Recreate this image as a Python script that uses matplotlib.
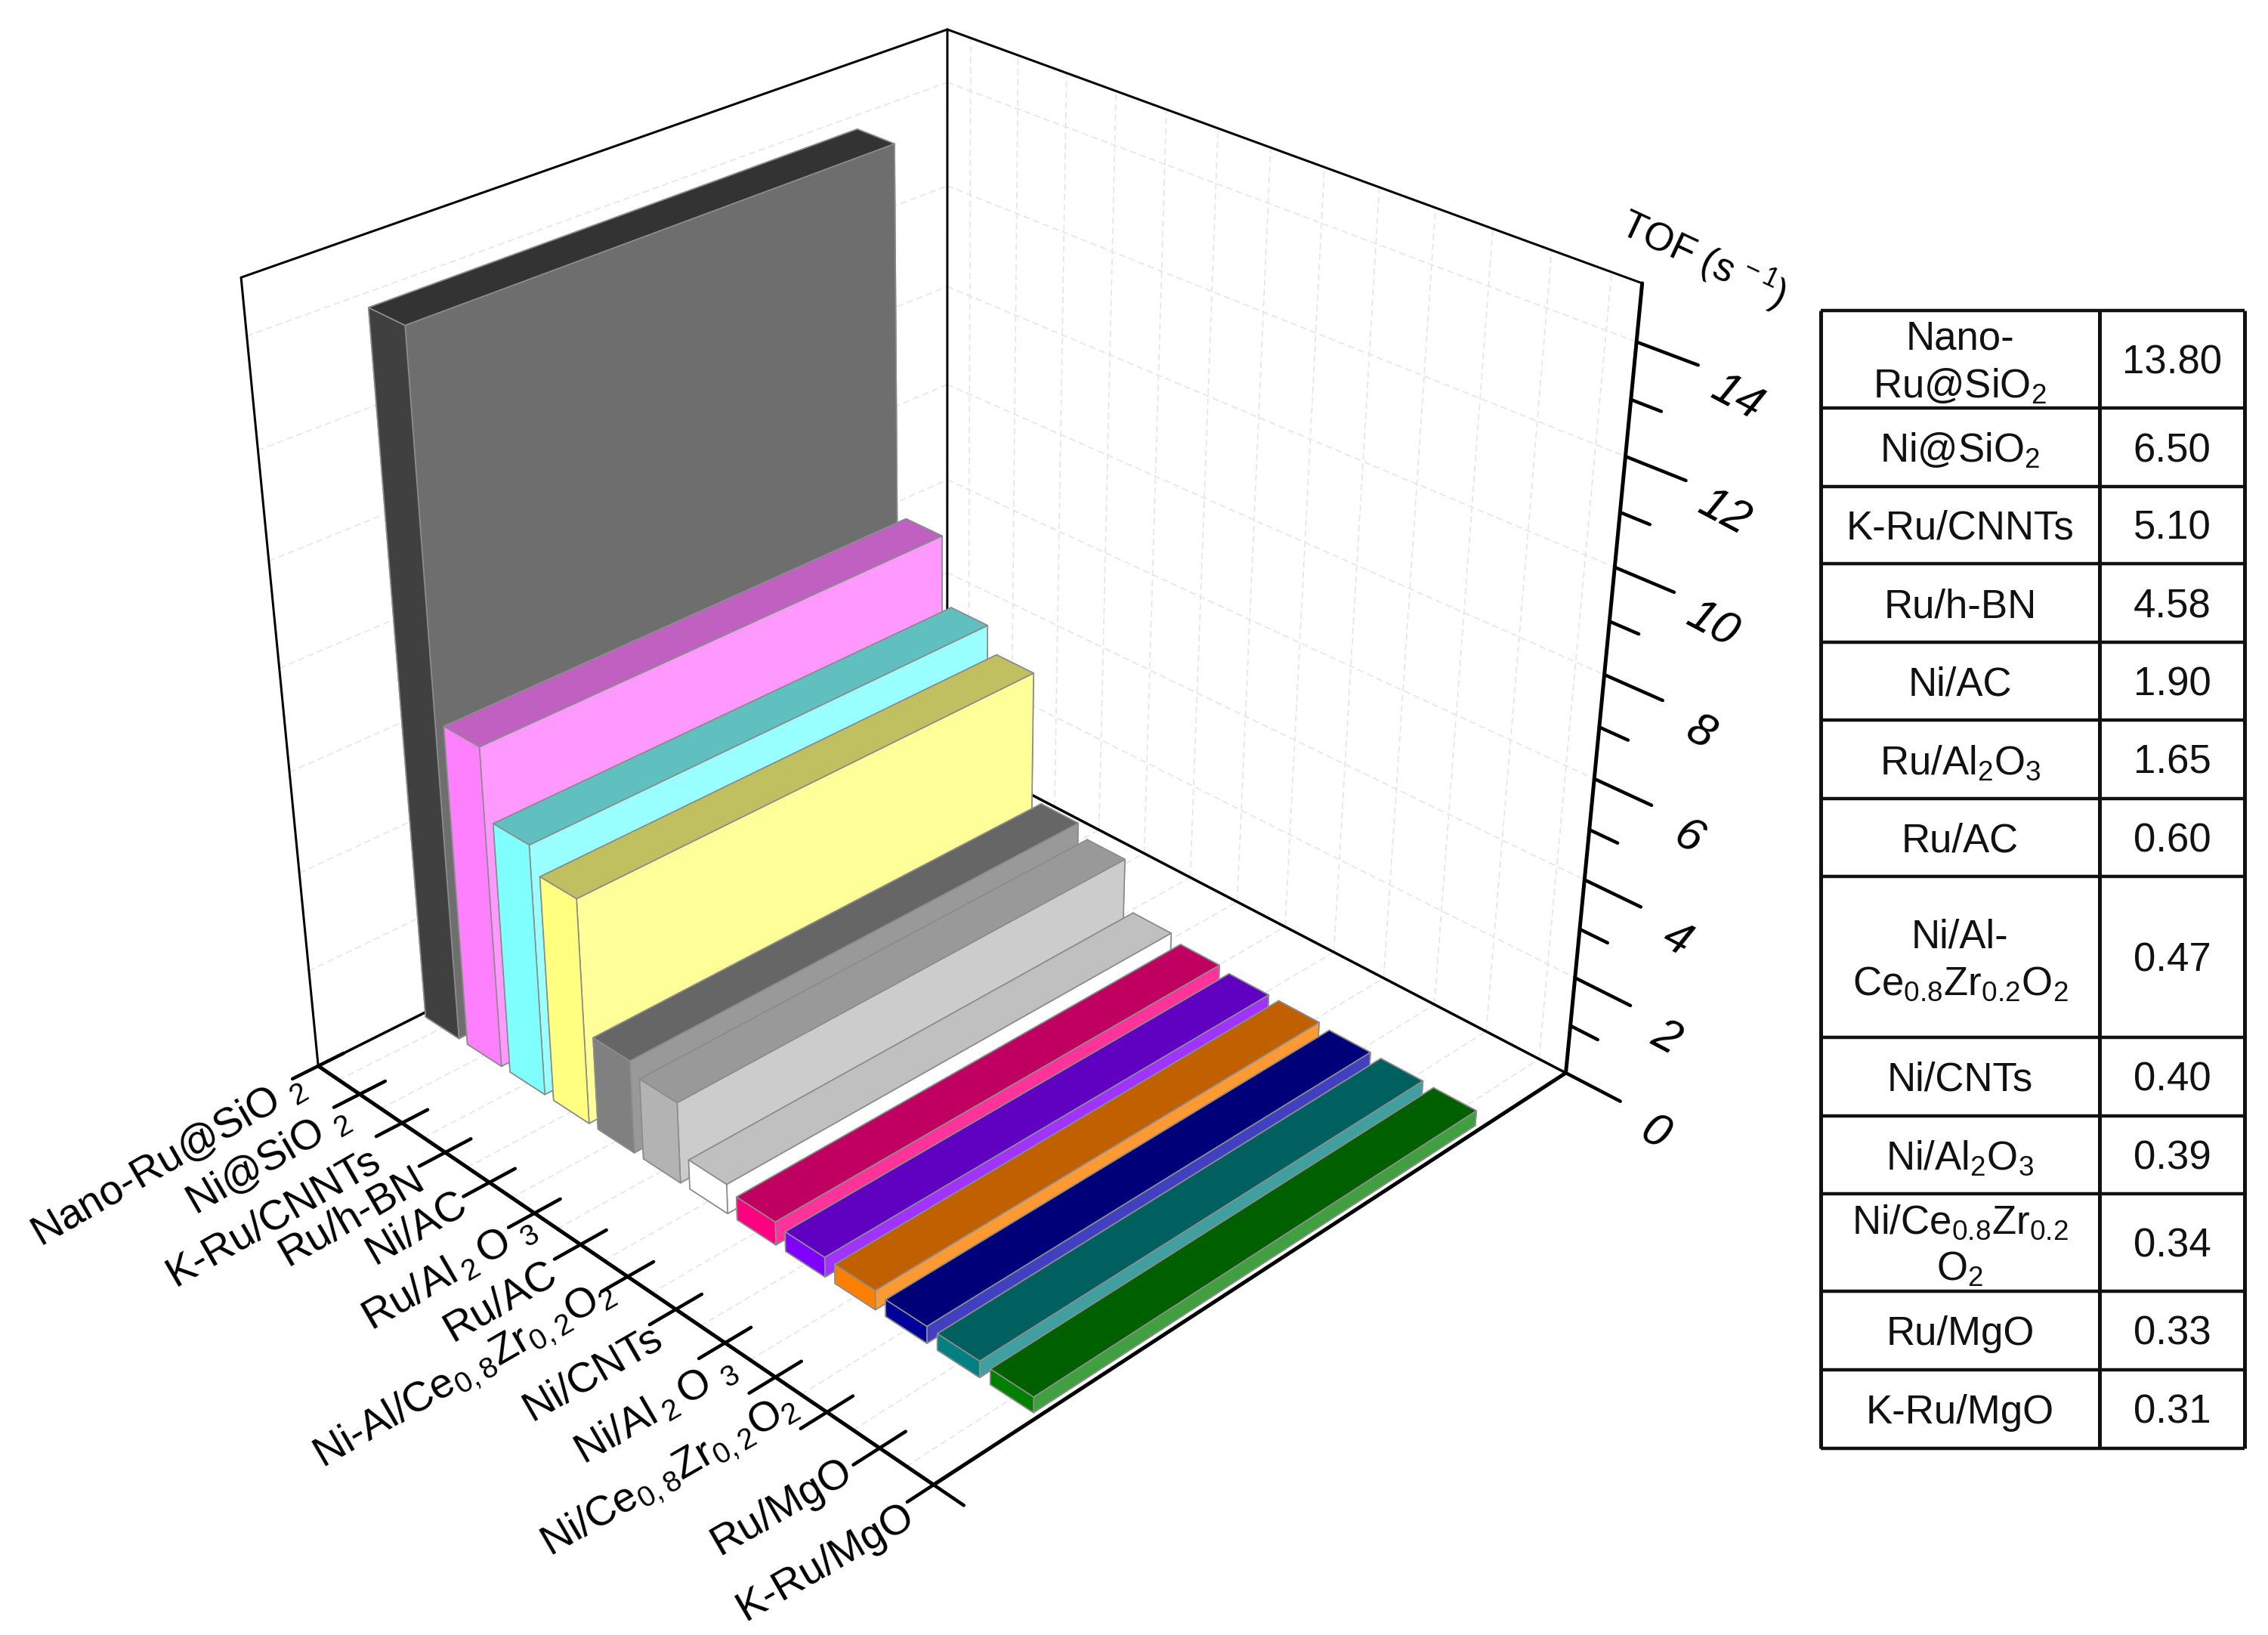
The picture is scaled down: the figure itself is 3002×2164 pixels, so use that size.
import numpy as np
import matplotlib
matplotlib.use("Agg")
import matplotlib.pyplot as plt
from mpl_toolkits.mplot3d import proj3d

WIDTH, HEIGHT = 3002, 2164

plt.rcParams['font.family'] = ['Liberation Sans', 'DejaVu Sans']
plt.rcParams['mathtext.fontset'] = 'custom'
plt.rcParams['mathtext.rm'] = 'Liberation Sans'
plt.rcParams['mathtext.it'] = 'Liberation Sans:italic'
plt.rcParams['mathtext.default'] = 'regular'

# data
catalysts = [r"Nano-Ru@SiO$\ _{2}$", r"Ni@SiO$\ _{2}$", "K-Ru/CNNTs", "Ru/h-BN", "Ni/AC",
             r"Ru/Al$\,_{2}\,$O$\ _{3}$", "Ru/AC",
             r"Ni-Al/Ce$_{0,8}$Zr$_{0,2}$O$_{2}$", "Ni/CNTs",
             r"Ni/Al$\,_{2}\,$O$\ _{3}$", r"Ni/Ce$_{0,8}$Zr$_{0,2}$O$_{2}$",
             "Ru/MgO", "K-Ru/MgO"]
table_names = ["Nano-\nRu@SiO$_{2}$", "Ni@SiO$_{2}$", "K-Ru/CNNTs", "Ru/h-BN", "Ni/AC",
               "Ru/Al$_{2}$O$_{3}$", "Ru/AC", "Ni/Al-\nCe$_{0.8}$Zr$_{0.2}$O$_{2}$", "Ni/CNTs",
               "Ni/Al$_{2}$O$_{3}$", "Ni/Ce$_{0.8}$Zr$_{0.2}$\nO$_{2}$", "Ru/MgO", "K-Ru/MgO"]
tof = [13.80, 6.50, 5.10, 4.58, 1.90, 1.65, 0.60, 0.47, 0.40, 0.39, 0.34, 0.33, 0.31]

top_colors = ["#333333", "#c060c0", "#60c0c0", "#c0c060", "#666666", "#999999", "#c0c0c0",
              "#c00060", "#6000c0", "#c06000", "#000078", "#006060", "#006000"]
end_colors = ["#404040", "#ff80ff", "#80ffff", "#ffff80", "#808080", "#b3b3b3", "#ffffff",
              "#ff0080", "#8000ff", "#ff8000", "#000099", "#008080", "#008000"]
side_colors = ["#6e6e6e", "#ff99ff", "#99ffff", "#ffff99", "#999999", "#cccccc", "#ffffff",
               "#ff3399", "#a033ff", "#ff9933", "#4040c0", "#40a0a0", "#40a040"]

z_max = 15
z_ticks = list(range(0, 16))
n_cat = len(catalysts)

# where corners of the box land on the picture, used to fit the camera
box_corners = [(0, 0, 0), (n_cat, 0, 0), (n_cat, 1, 0), (0, 1, 0),
               (0, 0, z_max), (n_cat, 1, z_max), (0, 1, z_max)]
box_pixels = [(421, 1413), (1235, 1964), (2072, 1421), (1255, 992),
              (320, 366), (2175, 375), (1252, 40)]


def fit_camera(world, pixels):
    rows = []
    for (x, y, z), (u, v) in zip(world, pixels):
        rows.append([x, y, z, 1, 0, 0, 0, 0, -u * x, -u * y, -u * z, -u])
        rows.append([0, 0, 0, 0, x, y, z, 1, -v * x, -v * y, -v * z, -v])
    p = np.linalg.svd(np.array(rows, dtype=float))[2][-1].reshape(3, 4)
    # scale so w is about 1 in the middle of the box
    p = p / (p[2] @ np.array([n_cat / 2, 0.5, z_max / 2, 1.0]))
    depth = [-1.0 / n_cat, 1.0, -1.0 / z_max, 0.0]
    return np.array([p[0], p[1], depth, p[2]])


fig = plt.figure(figsize=(WIDTH / 100, HEIGHT / 100), dpi=100)
ax = fig.add_axes([0, 0, 1, 1], projection='3d', computed_zorder=False)
M = fit_camera(box_corners, box_pixels)
ax.set_proj_type('ortho')  # keeps Line3D from clipping to -1..1
ax.get_proj = lambda: M
ax.apply_aspect = lambda position=None: None
ax.viewLim.intervalx = (0, WIDTH)
ax.viewLim.intervaly = (HEIGHT, 0)
ax.set_axis_off()
ax.patch.set_alpha(0)


def line(xs, ys, zs, width=2.0, zorder=0, color='black', **kw):
    ax.plot(xs, ys, zs, color=color, lw=width * 0.72, zorder=zorder,
            solid_capstyle='round', **kw)


# grid
grid = dict(width=1.7, color='#e6e6e6', ls=(0, (5, 3)))
for i in range(n_cat):
    line([i + 0.5, i + 0.5], [0, 1], [0, 0], **grid)
    line([i + 0.5, i + 0.5], [1, 1], [0, z_max], **grid)
for z in z_ticks[2::2]:
    line([0, 0], [0, 1], [z, z], **grid)
    line([0, n_cat], [1, 1], [z, z], **grid)

# box
line([0, 0], [0, 0], [0, z_max], 3)
line([0, 0], [1, 1], [0, z_max], 3)
line([0, 0], [0, 1], [z_max, z_max], 3)
line([0, n_cat], [1, 1], [z_max, z_max], 3)
line([0, 0], [0, 1], [0, 0], 3.5)
line([0, n_cat], [1, 1], [0, 0], 3.5)

# bars
for i, val in enumerate(tof):
    face_colors = [top_colors[i], top_colors[i], end_colors[i], end_colors[i],
                   side_colors[i], side_colors[i]]
    ax.bar3d(i + 0.1, 0.148, 0, 0.8, 0.70, val, color=face_colors, shade=False,
             edgecolor='#8c8c8c', linewidth=1.2, zorder=i + 1)

# front axes and ticks
line([0, n_cat], [0, 0], [0, 0], 5, zorder=30)
line([n_cat, n_cat], [0, 1], [0, 0], 5, zorder=30)
line([n_cat, n_cat], [1, 1], [0, z_max], 5, zorder=30)
for i in range(n_cat + 1):
    line([i, i], [-0.036, 0.036], [0, 0], 4.5, zorder=30)
line([n_cat, n_cat + 0.55], [0, 0], [0, 0], 4.5, zorder=30)
for z in z_ticks:
    if z == z_max:
        continue
    length = 1.0 if z % 2 == 0 else 0.5
    line([n_cat, n_cat + length], [1, 1], [z, z], 4.5, zorder=30)

# flat overlay for labels and the table, in picture pixels
ov = fig.add_axes([0, 0, 1, 1])
ov.set_xlim(0, WIDTH)
ov.set_ylim(HEIGHT, 0)
ov.axis('off')
ov.patch.set_alpha(0)

for z in z_ticks[::2]:
    if z <= 14:
        px, py, _ = proj3d.proj_transform(n_cat + 1.65, 1, z - 0.3, M)
        ov.text(px, py, str(z), fontsize=44, style='italic', rotation=-28,
                ha='center', va='center', rotation_mode='anchor')

label_ends = [(400, 1434), (458, 1477), (500, 1532), (558, 1558), (614, 1590), (706, 1622),
              (734, 1682), (810, 1707), (873, 1767), (971, 1808), (1052, 1858), (1124, 1943),
              (1206, 2003)]
for name, (lx, ly) in zip(catalysts, label_ends):
    ov.text(lx, ly, name, fontsize=40, rotation=30, ha='right', va='center',
            rotation_mode='anchor')

ov.text(2255, 343, r"TOF (s$^{\,-1}$)", fontsize=37, rotation=-25, ha='center', va='center',
        rotation_mode='anchor')

row_edges = [411, 540, 644, 746, 850, 953, 1057, 1160, 1373, 1477, 1580, 1709, 1813, 1917]
col_edges = [2410, 2779, 2971]
ov.hlines(row_edges, col_edges[0], col_edges[-1], color='#111111', lw=3.2)
ov.vlines(col_edges, row_edges[0], row_edges[-1], color='#111111', lw=3.6)
for r, (name, val) in enumerate(zip(table_names, tof)):
    mid = (row_edges[r] + row_edges[r + 1]) / 2 + 5
    ov.text((col_edges[0] + col_edges[1]) / 2, mid, name, fontsize=38, ha='center', va='center',
            color='#111111', linespacing=1.3)
    ov.text((col_edges[1] + col_edges[2]) / 2, mid, f"{val:.2f}", fontsize=38, ha='center',
            va='center', color='#111111')

fig.savefig('out.png', dpi=100)
